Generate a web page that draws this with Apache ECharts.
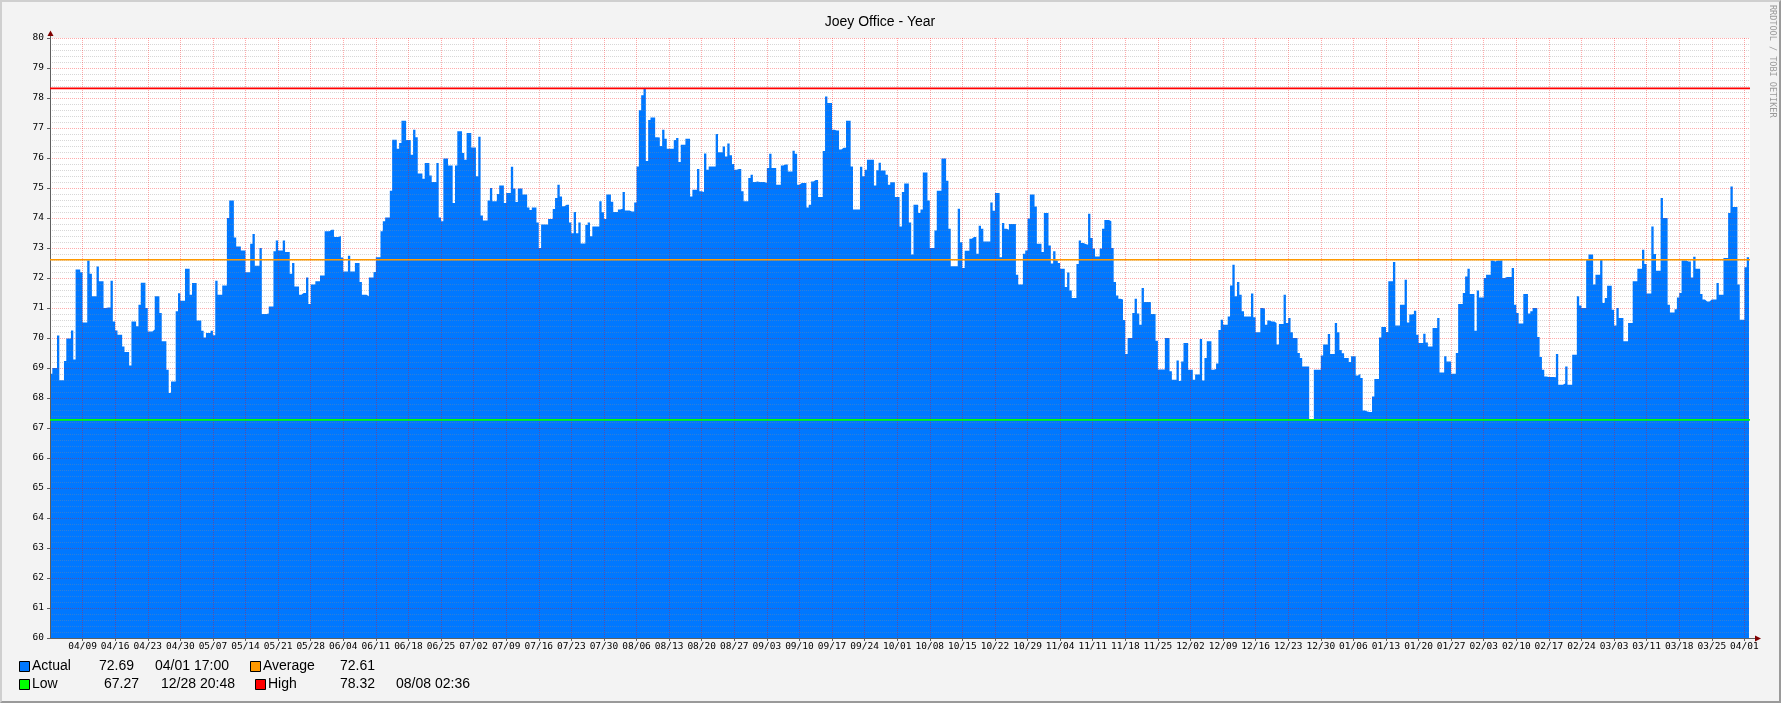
<!DOCTYPE html>
<html><head><meta charset="utf-8">
<script src="https://cdn.jsdelivr.net/npm/echarts@6/dist/echarts.min.js"></script>
<style>
html,body{margin:0;padding:0;background:#f3f3f3;}
#wrap{position:relative;width:1781px;height:703px;}
#chart{width:1781px;height:703px;}
#frame{position:absolute;left:0;top:0;width:1781px;height:703px;box-sizing:border-box;border-top:2px solid #cfcfcf;border-left:2px solid #cfcfcf;border-right:2px solid #9a9a9a;border-bottom:2px solid #9a9a9a;pointer-events:none;}
</style></head><body>
<div id="wrap"><div id="chart"></div><div id="frame"></div></div>
<script>
// ---------------- data ----------------
const TITLE = 'Joey Office - Year';
const WATERMARK = 'RRDTOOL / TOBI OETIKER';
const weekLabels = ['04/09','04/16','04/23','04/30','05/07','05/14','05/21','05/28','06/04','06/11','06/18','06/25',
  '07/02','07/09','07/16','07/23','07/30','08/06','08/13','08/20','08/27','09/03','09/10','09/17','09/24',
  '10/01','10/08','10/15','10/22','10/29','11/04','11/11','11/18','11/25','12/02','12/09','12/16','12/23',
  '12/30','01/06','01/13','01/20','01/27','02/03','02/10','02/17','02/24','03/03','03/11','03/18','03/25','04/01'];
const DAYS_PER_WEEK = 7;
const STEP_DAYS = 0.5;          // one reading every 12 hours
const SPAN_DAYS = 365.2;        // visible time span (days)
const yTicks = [60, 80, 1];     // min, max, step
// temperature readings (12 h steps)
const actual = [
68.81,69.00,69.00,70.08,68.59,68.59,69.23,69.98,69.98,70.25,69.28,72.28,72.28,72.19,
70.52,70.52,72.58,72.14,71.39,71.39,72.38,71.89,71.89,71.00,71.02,71.02,71.91,70.55,
70.25,70.11,70.11,69.72,69.53,69.53,69.08,70.55,70.55,70.39,71.11,71.84,71.84,71.00,
70.22,70.22,70.28,71.39,71.39,70.83,69.89,69.89,68.94,68.17,68.55,68.55,70.89,71.49,
71.24,71.24,72.31,72.31,71.44,71.83,71.83,70.58,70.58,70.24,70.02,70.17,70.17,70.24,
70.09,71.91,71.44,71.44,71.75,71.75,74.00,74.58,74.58,73.35,73.05,73.05,72.92,72.92,
72.19,72.19,73.14,73.47,72.41,72.41,73.00,70.80,70.80,70.82,71.05,71.05,72.89,73.25,
72.92,72.92,73.25,72.87,72.87,72.14,72.50,71.72,71.72,71.44,71.50,71.50,72.02,71.13,
71.78,71.78,71.89,71.89,72.08,72.08,73.56,73.56,73.61,73.61,73.37,73.37,73.41,72.68,
72.22,72.22,72.74,72.22,72.22,72.50,72.50,71.87,71.44,71.44,71.39,72.02,72.02,72.20,
72.69,72.69,73.56,73.89,74.02,74.02,74.91,76.61,76.61,76.31,76.50,77.24,77.24,76.60,
76.60,76.11,76.94,76.69,75.48,75.48,75.31,75.83,75.83,75.42,75.20,75.20,75.83,74.02,
73.89,75.98,75.98,75.75,75.75,74.50,75.75,76.89,76.89,76.17,75.94,76.83,76.83,76.35,
76.35,75.39,76.71,74.08,73.92,73.92,74.58,75.00,74.56,74.56,74.80,75.08,75.08,74.50,
74.83,74.83,75.71,74.98,74.53,74.98,74.98,74.78,74.78,74.35,74.27,74.35,74.35,73.85,
73.00,73.78,73.78,73.78,73.97,73.97,74.30,74.67,75.11,74.72,74.39,74.44,74.44,73.85,
73.49,74.20,73.49,73.85,73.15,73.15,73.77,73.85,73.39,73.72,73.72,73.72,74.56,74.19,
73.97,74.78,74.78,74.54,74.20,74.20,74.28,74.31,74.87,74.25,74.25,74.22,74.22,74.52,
75.72,77.59,78.09,78.32,75.90,77.27,77.35,77.35,76.69,76.68,76.40,76.94,76.64,76.31,
76.31,76.31,76.60,76.67,75.87,76.44,76.44,76.64,76.64,74.72,74.94,74.94,75.63,74.89,
74.87,76.15,75.61,75.72,75.72,75.72,76.80,76.19,76.19,76.38,76.05,76.48,76.09,75.80,
75.61,75.63,75.63,74.89,74.56,74.56,75.33,75.44,75.20,75.22,75.20,75.20,75.20,75.17,
75.67,76.14,75.67,75.67,75.11,75.11,75.75,75.78,75.78,75.55,75.55,76.24,76.14,75.11,
75.17,75.17,75.17,74.35,74.44,75.22,75.27,75.27,74.70,74.70,76.23,78.05,77.83,77.83,
76.94,76.92,76.92,76.28,76.34,76.34,77.24,77.24,75.72,74.28,74.28,74.28,75.71,75.39,
75.61,75.94,75.94,75.94,75.08,75.59,75.84,75.58,75.58,75.44,75.11,75.19,75.19,74.70,
74.70,73.72,74.87,75.15,75.15,73.85,72.78,74.44,74.44,74.17,74.28,75.52,75.52,74.58,
73.00,73.00,73.58,74.91,74.91,75.98,75.98,75.24,73.64,72.39,72.39,72.39,74.31,73.19,
72.33,72.91,72.91,73.31,73.37,73.37,72.81,73.74,73.64,73.22,73.22,73.22,74.52,74.24,
74.83,74.83,72.69,73.83,73.64,73.61,73.80,73.80,73.80,72.11,71.78,71.78,72.81,72.92,
73.98,74.78,74.78,74.38,73.14,73.14,72.87,74.17,74.17,73.08,72.48,72.89,72.58,72.50,
72.31,72.31,71.70,72.18,71.58,71.33,71.33,72.47,73.25,73.17,73.13,73.11,74.14,73.33,
72.98,72.72,72.72,72.98,73.64,73.93,73.93,73.89,73.00,71.87,71.42,71.31,71.28,70.60,
69.47,70.00,70.00,70.83,71.31,70.82,70.44,71.67,71.20,71.20,71.20,70.80,70.80,69.91,
68.95,68.95,68.95,70.00,70.00,68.89,68.61,68.61,69.25,68.57,69.22,69.83,69.83,68.94,
68.94,68.61,68.78,68.78,69.97,68.58,69.33,69.89,69.89,68.94,68.97,69.15,70.27,70.61,
70.44,70.44,70.72,71.75,72.44,71.39,71.87,71.44,70.89,70.72,70.72,70.72,71.48,70.69,
70.19,70.19,71.00,70.98,70.44,70.58,70.55,70.55,70.50,69.78,70.47,70.47,71.44,70.50,
70.67,70.19,70.00,70.00,69.50,69.33,69.05,69.05,69.05,67.27,67.28,68.94,68.94,68.94,
69.42,69.78,69.78,70.13,69.47,69.47,70.50,70.19,69.60,69.49,69.33,69.33,69.20,69.39,
69.39,68.75,68.81,68.67,67.58,67.55,67.53,67.53,68.05,68.63,68.63,70.02,70.37,70.37,
70.20,71.89,71.89,72.53,70.42,70.42,71.11,71.11,71.94,70.52,70.78,70.80,70.91,70.11,
69.83,69.83,70.14,69.85,69.72,69.72,70.33,70.33,70.67,68.85,68.85,69.39,69.22,69.22,
68.81,68.81,69.50,71.13,71.13,71.50,72.05,72.31,71.47,71.47,70.24,71.58,71.35,71.35,
72.00,72.11,72.11,72.58,72.55,72.58,72.58,72.59,72.00,72.03,72.03,72.03,72.33,71.11,
70.83,70.48,70.48,71.47,71.47,70.82,70.89,71.00,71.00,70.03,69.37,68.94,68.72,68.70,
68.70,68.70,68.69,69.47,68.44,68.44,68.48,69.05,68.44,68.44,69.44,69.44,71.39,71.08,
71.00,71.00,72.61,72.78,72.78,71.78,72.11,72.11,72.63,71.17,71.33,71.74,71.74,70.94,
70.42,71.00,70.67,70.67,69.89,69.89,70.50,70.50,71.89,71.89,72.31,72.31,72.94,72.47,
71.48,71.48,73.72,72.80,72.24,72.24,74.67,74.00,74.00,71.11,70.85,70.85,70.96,71.35,
71.50,72.58,72.58,72.55,72.55,72.02,72.71,72.31,72.31,71.47,71.28,71.22,71.22,71.28,
71.28,71.28,71.83,71.44,71.44,72.67,72.67,74.17,75.05,74.37,74.37,71.78,70.61,70.61,
72.36,72.69];
// summary values printed in the legend
const avgValue = 72.61;
const lowValue = 67.27, lowTime = '12/28 20:48';
const highValue = 78.32, highTime = '08/08 02:36';
const lastTime = '04/01 17:00';
const lastValue = actual[actual.length - 1];

// ---------------- style ----------------
const C_AREA = '#0078ff', C_AVG = '#ff9900', C_LOW = '#00ff00', C_HIGH = '#ff0000';
const GL = 50, GR = 1750, GT = 38, GB = 638;

const points = actual.map((v, i) => [i * STEP_DAYS, v]);
points.push([actual.length * STEP_DAYS, lastValue]);

function rule(v, color) {
  return { type: 'line', data: [[0, v], [SPAN_DAYS, v]], symbol: 'none', silent: true, z: 6,
           lineStyle: { color: color, width: 1.6 } };
}

const chart = echarts.init(document.getElementById('chart'), null, { renderer: 'canvas' });

const legendFont = '14px "Liberation Sans", Arial, sans-serif';
function txt(x, y, s, extra) {
  return Object.assign({ type: 'text', x: x, y: y, silent: true,
    style: { text: s, fill: '#000', font: legendFont, align: 'left', verticalAlign: 'middle',
             textAlign: 'left', textVerticalAlign: 'middle' } }, extra || {});
}
function box(x, y, color) {
  return { type: 'rect', silent: true, shape: { x: x + 0.5, y: y + 0.5, width: 10, height: 10 },
           style: { fill: color, stroke: '#000', lineWidth: 1 } };
}
const R1 = 666, R2 = 684;
const graphics = [
  { type: 'text', x: 880, y: 22, silent: true,
    style: { text: TITLE, fill: '#000', font: '14px "Liberation Sans", Arial, sans-serif',
             align: 'center', verticalAlign: 'middle', textAlign: 'center', textVerticalAlign: 'middle' } },
  { type: 'text', x: 1772, y: 5, rotation: -Math.PI / 2, silent: true,
    style: { text: WATERMARK, fill: '#9a9a9a', font: '8.5px "DejaVu Sans Mono", monospace',
             align: 'left', verticalAlign: 'middle', textAlign: 'left', textVerticalAlign: 'middle' } },
  // axis arrows
  { type: 'line', silent: true, shape: { x1: GL + 0.5, y1: 35, x2: GL + 0.5, y2: GT }, style: { stroke: '#606060', lineWidth: 1 } },
  { type: 'polygon', silent: true, shape: { points: [[GL + 0.5, 30.5], [GL - 2.5, 36], [GL + 3.5, 36]] }, style: { fill: '#800000' } },
  { type: 'line', silent: true, shape: { x1: GR, y1: GB + 0.5, x2: GR + 6, y2: GB + 0.5 }, style: { stroke: '#606060', lineWidth: 1 } },
  { type: 'polygon', silent: true, shape: { points: [[GR + 11, GB + 0.5], [GR + 5, GB - 2.5], [GR + 5, GB + 3.5]] }, style: { fill: '#800000' } },
  // legend row 1
  box(19, 661, C_AREA), txt(32, R1, 'Actual'), txt(99, R1, lastValue.toFixed(2)), txt(155, R1, lastTime),
  box(250, 661, C_AVG), txt(263, R1, 'Average'), txt(340, R1, avgValue.toFixed(2)),
  // legend row 2
  box(19, 679, C_LOW), txt(32, R2, 'Low'), txt(104, R2, lowValue.toFixed(2)), txt(161, R2, lowTime),
  box(255, 679, C_HIGH), txt(268, R2, 'High'), txt(340, R2, highValue.toFixed(2)), txt(396, R2, highTime)
];

chart.setOption({
  animation: false,
  backgroundColor: '#f3f3f3',
  grid: { left: GL, right: 1781 - GR, top: GT, bottom: 703 - GB, show: true, backgroundColor: '#ffffff', borderWidth: 0 },
  xAxis: {
    type: 'value', min: 0, max: SPAN_DAYS, interval: DAYS_PER_WEEK, z: 5,
    axisLine: { show: true, onZero: false, lineStyle: { color: '#606060', width: 1 } },
    axisTick: { show: true, length: 3, lineStyle: { color: '#606060' } },
    axisLabel: {
      show: true, margin: 4, color: '#000', fontFamily: 'DejaVu Sans Mono', fontSize: 9.5,
      showMinLabel: false, showMaxLabel: false,
      formatter: function (v) {
        const w = Math.round(v / DAYS_PER_WEEK);
        if (Math.abs(v - w * DAYS_PER_WEEK) > 1e-6) return '';
        return (w >= 1 && w <= weekLabels.length) ? weekLabels[w - 1] : '';
      }
    },
    splitLine: { show: true, showMinLine: false, showMaxLine: false,
                 lineStyle: { color: 'rgba(255,0,0,0.33)', width: 1, type: [1, 1] } }
  },
  yAxis: {
    type: 'value', min: yTicks[0], max: yTicks[1], interval: yTicks[2], z: 5,
    axisLine: { show: true, lineStyle: { color: '#606060', width: 1 } },
    axisTick: { show: true, length: 3, lineStyle: { color: '#606060' } },
    axisLabel: { margin: 6, color: '#000', fontFamily: 'DejaVu Sans Mono', fontSize: 9.5 },
    splitLine: { show: true, lineStyle: { color: 'rgba(255,0,0,0.33)', width: 1, type: [1, 1] } },
    minorTick: { show: false, splitNumber: 5 },
    minorSplitLine: { show: true, lineStyle: { color: 'rgba(140,140,140,0.35)', width: 1, type: [1, 1] } }
  },
  series: [
    { type: 'line', data: points, step: 'end', symbol: 'none', showSymbol: false, silent: true, z: 2,
      lineStyle: { width: 0, color: C_AREA }, areaStyle: { color: C_AREA, opacity: 1, origin: 'start' } },
    rule(avgValue, C_AVG),
    rule(lowValue, C_LOW),
    rule(highValue, C_HIGH)
  ],
  graphic: { elements: graphics }
});
</script>
</body></html>
